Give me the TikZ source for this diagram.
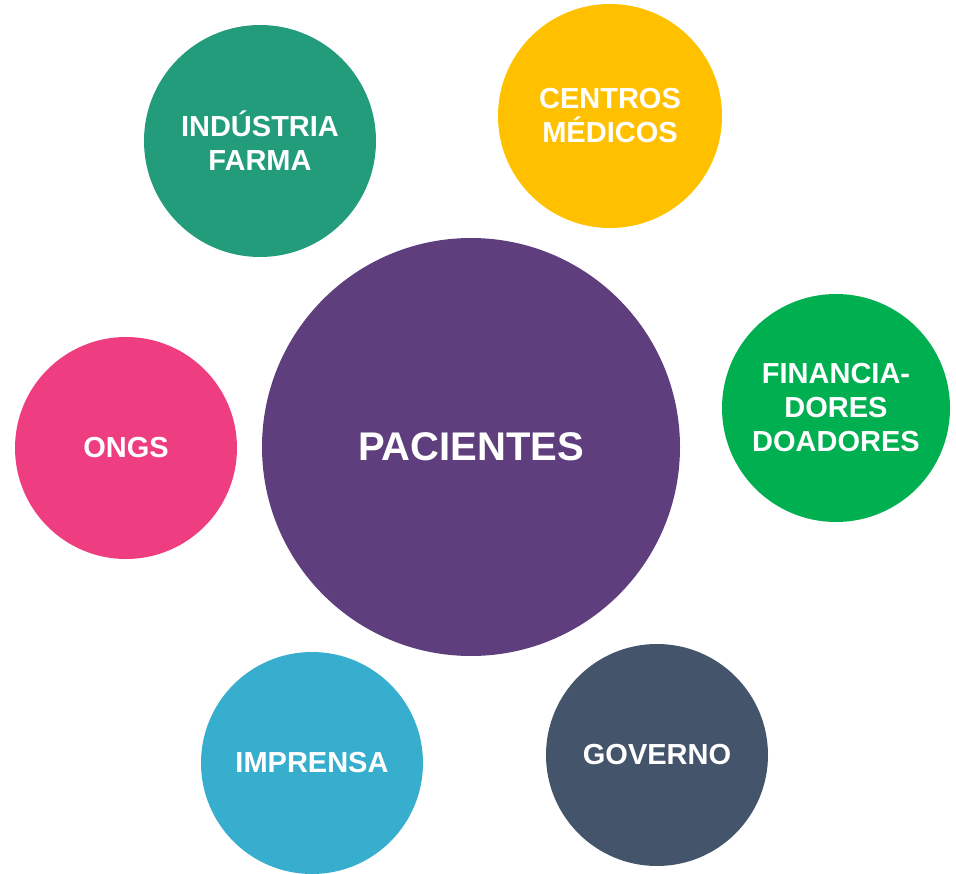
\documentclass[tikz,border=0pt]{standalone}
\usepackage{fontspec}
\setmainfont{Liberation Sans}
\definecolor{cfarma}{HTML}{229C7A}
\definecolor{ccentros}{HTML}{FFC000}
\definecolor{cfin}{HTML}{00B050}
\definecolor{congs}{HTML}{EE3D80}
\definecolor{cimp}{HTML}{38AECE}
\definecolor{cgov}{HTML}{44546A}
\definecolor{cpac}{HTML}{5E3E7D}
\begin{document}
\begin{tikzpicture}[x=1pt,y=-1pt,
  bubble/.style={circle,inner sep=0pt,text=white,align=center,font=\bfseries\fontsize{29}{34}\selectfont}]
\useasboundingbox (0,0) rectangle (956,874);
\node[bubble,fill=cpac,minimum size=418pt,font=\bfseries\fontsize{40}{46}\selectfont] (pac) at (471,447) {PACIENTES};
\node[bubble,fill=cfarma,minimum size=232pt] (farma) at (260,141) {INDÚSTRIA\\FARMA};
\node[bubble,fill=ccentros,minimum size=224pt] (centros) at (610,116) {CENTROS\\MÉDICOS};
\node[bubble,fill=cfin,minimum size=228pt] (fin) at (836,408) {FINANCIA-\\DORES\\DOADORES};
\node[bubble,fill=congs,minimum size=222pt] (ongs) at (126,448) {ONGS};
\node[bubble,fill=cimp,minimum size=222pt] (imp) at (312,763) {IMPRENSA};
\node[bubble,fill=cgov,minimum size=222pt] (gov) at (657,755) {GOVERNO};
\end{tikzpicture}
\end{document}
